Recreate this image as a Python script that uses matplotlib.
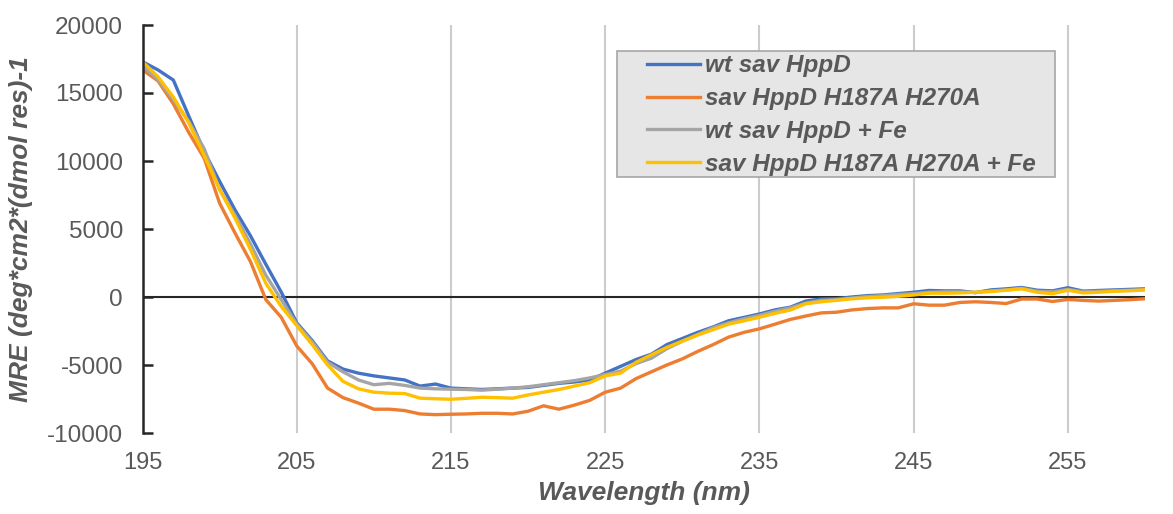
import matplotlib.pyplot as plt
from matplotlib.patches import Rectangle, Shadow

plt.rcParams['font.family'] = ['Liberation Sans', 'DejaVu Sans']
plt.rcParams['axes.unicode_minus'] = False

wavelength = list(range(195, 261))

wt = [17300, 16700, 15950, 13300, 10700, 8500, 6400, 4500, 2400, 350,
      -1900, -3200, -4700, -5300, -5600, -5800, -5950, -6100, -6550, -6400,
      -6700, -6750, -6800, -6750, -6700, -6650, -6500, -6350, -6250, -6100,
      -5600, -5100, -4600, -4200, -3500, -3050, -2600, -2200, -1750, -1500,
      -1250, -950, -750, -300, -150, -130, 0, 100, 150, 250,
      350, 480, 450, 450, 320, 520, 600, 700, 500, 450,
      680, 430, 480, 520, 560, 600]

mut = [16700, 15900, 14200, 12100, 10200, 6900, 4700, 2600, -200, -1500,
       -3600, -4900, -6700, -7400, -7800, -8250, -8250, -8350, -8600, -8650,
       -8620, -8600, -8550, -8550, -8600, -8400, -8000, -8250, -7950, -7600,
       -7000, -6700, -6000, -5500, -5000, -4550, -4000, -3500, -2950, -2600,
       -2340, -2000, -1650, -1400, -1170, -1120, -950, -850, -800, -800,
       -500, -600, -600, -400, -350, -400, -480, -150, -150, -330,
       -180, -250, -300, -250, -200, -130]

wt_fe = [17050, 16000, 14500, 12900, 10900, 7900, 6000, 3900, 1600, -200,
         -2000, -3300, -4800, -5500, -6100, -6450, -6350, -6500, -6700, -6750,
         -6780, -6800, -6850, -6780, -6700, -6600, -6450, -6300, -6150, -5950,
         -5700, -5450, -4900, -4500, -3800, -3250, -2750, -2250, -1900, -1600,
         -1350, -1050, -800, -450, -250, -200, -80, 30, 100, 180,
         250, 350, 380, 380, 330, 450, 520, 640, 420, 380,
         560, 380, 420, 460, 500, 540]

mut_fe = [17300, 16200, 14700, 12800, 10400, 7900, 5800, 3500, 1000, -700,
          -2100, -3500, -5000, -6200, -6750, -7000, -7070, -7100, -7440, -7480,
          -7520, -7450, -7370, -7400, -7440, -7200, -7000, -6800, -6550, -6300,
          -5800, -5600, -4800, -4250, -3700, -3250, -2800, -2400, -2000, -1750,
          -1490, -1200, -960, -500, -350, -250, -130, -60, -20, 50,
          150, 280, 280, 300, 350, 400, 500, 600, 350, 240,
          500, 300, 350, 420, 460, 520]

labels = ['wt sav HppD', 'sav HppD H187A H270A', 'wt sav HppD + Fe', 'sav HppD H187A H270A + Fe']
colors = ['#4472C4', '#ED7D31', '#A5A5A5', '#FFC000']
xticks = [195, 205, 215, 225, 235, 245, 255]
yticks = [-10000, -5000, 0, 5000, 10000, 15000, 20000]

fig = plt.figure(figsize=(11.73, 5.14), dpi=100)
ax = fig.add_axes([142.5/1173, 1-433/514, 1002.5/1173, 408/514])

# vertical grid + zero line
for x in xticks[1:]:
    ax.axvline(x, color='#cccccc', lw=1.5, zorder=0)
ax.axhline(0, color='#262626', lw=1.5, zorder=1)

for ys, c, lab in zip([wt, mut, wt_fe, mut_fe], colors, labels):
    ax.plot(wavelength, ys, color=c, lw=2.4, label=lab, zorder=2)

ax.set_xlim(195, 260)
ax.set_ylim(-10000, 20000)
ax.set_xticks(xticks)
ax.set_yticks(yticks)
for s in ['top', 'right', 'bottom']:
    ax.spines[s].set_visible(False)
ax.spines['left'].set_linewidth(1.8)
ax.spines['left'].set_color('#262626')
ax.tick_params(axis='y', direction='in', length=7, width=1.8, color='#262626',
               pad=14, labelsize=17.5, labelcolor='#595959')
ax.tick_params(axis='x', length=0, pad=14, labelsize=17, labelcolor='#595959')

ax.set_xlabel('Wavelength (nm)', fontsize=19, fontweight='bold', style='italic',
              color='#595959', labelpad=5)
ax.set_ylabel('MRE (deg*cm2*(dmol res)-1', fontsize=19, fontweight='bold',
              style='italic', color='#595959', labelpad=10)

# legend box drawn by hand so the padding matches
box = Rectangle((0.473, 0.627), 0.437, 0.309, transform=ax.transAxes,
                facecolor='#e6e6e6', edgecolor='#a6a6a6', lw=1.2, zorder=5)
shad = Shadow(box, 4, -4, facecolor='#8c8c8c', alpha=0.5, zorder=4)
ax.add_patch(shad)
ax.add_patch(box)

leg = ax.legend(loc='upper left', bbox_to_anchor=(0.503, 0.928), fontsize=17.5,
                frameon=False, labelcolor='#595959',
                handlelength=2.2, handletextpad=0.2, labelspacing=0.4,
                borderpad=0, borderaxespad=0)
leg.set_zorder(6)
for t in leg.get_texts():
    t.set_fontstyle('italic')
    t.set_fontweight('bold')

fig.savefig('out.png', dpi=100)
